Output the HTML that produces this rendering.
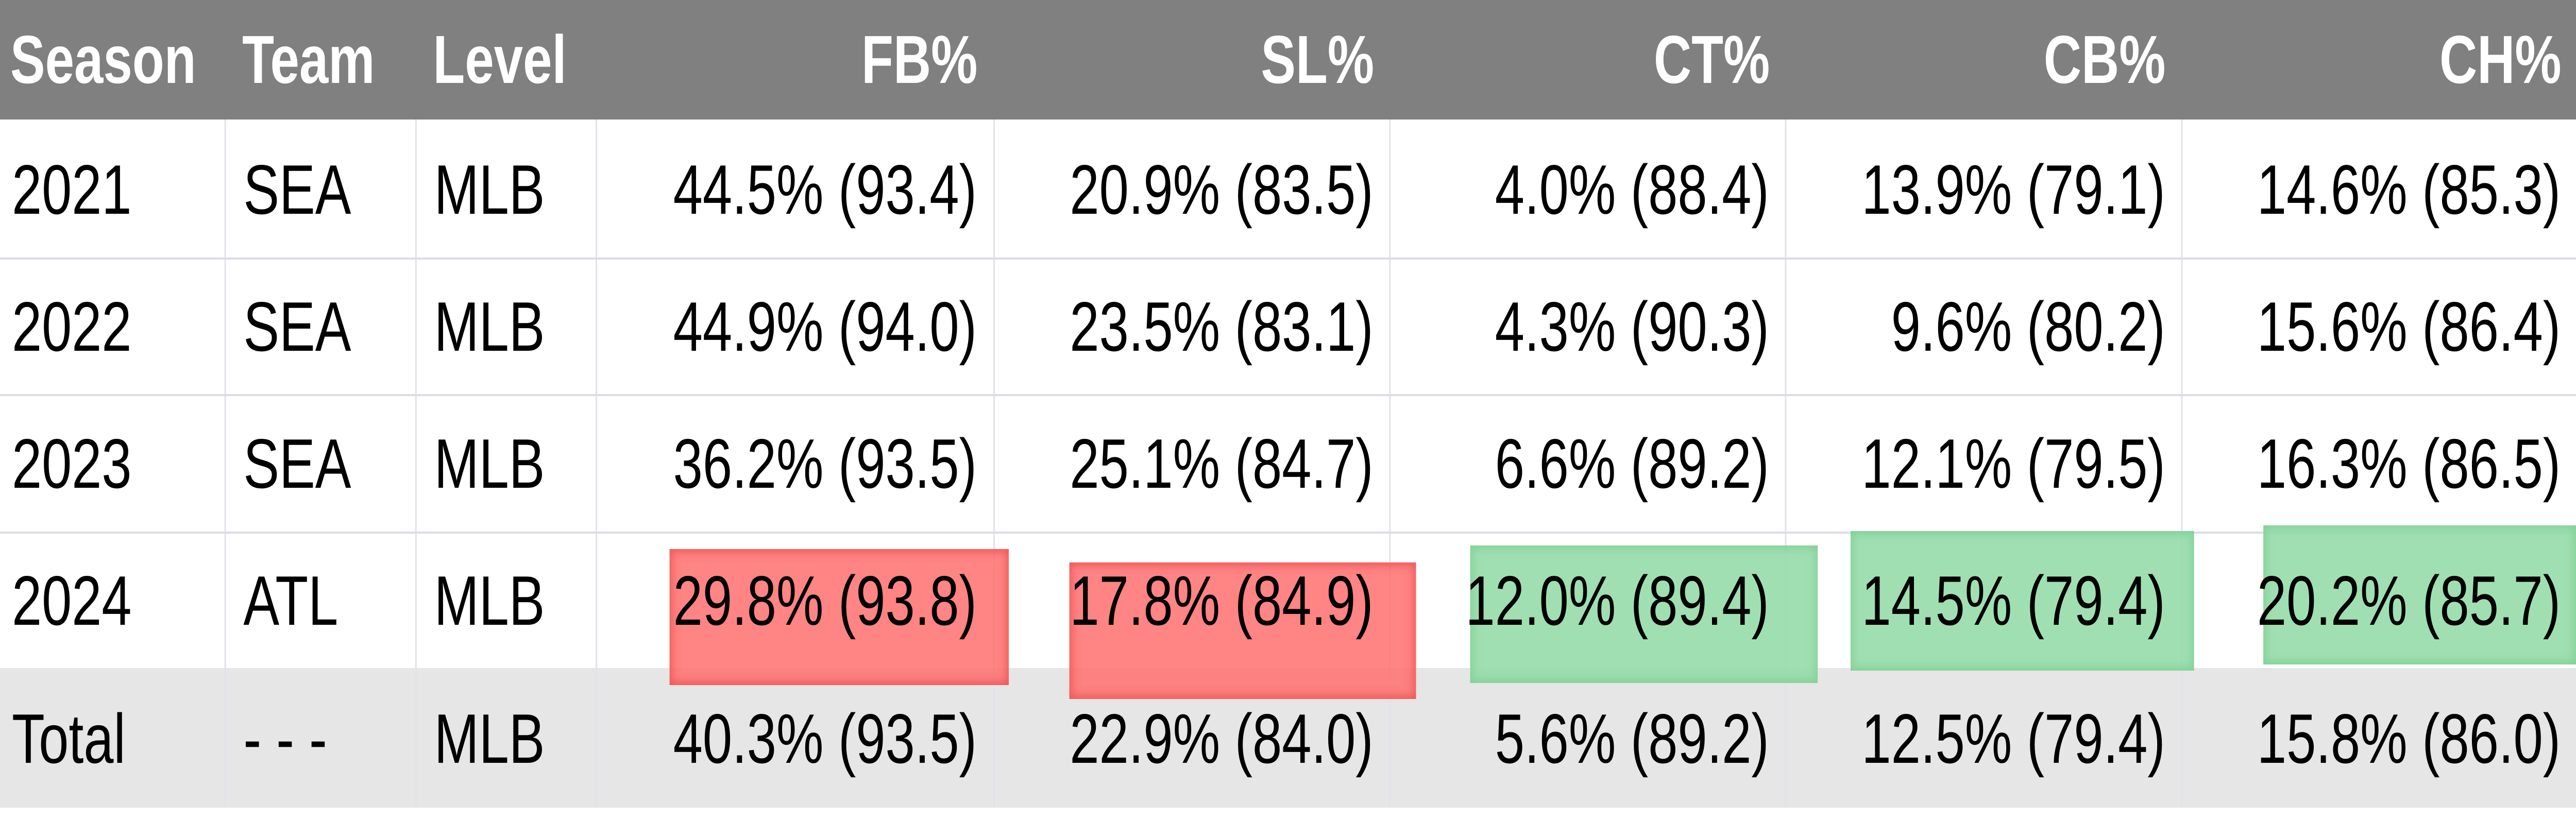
<!DOCTYPE html>
<html style="margin:0;padding:0;overflow:hidden"><head><meta charset="utf-8"><style>
html,body{margin:0;padding:0;overflow:hidden;background:#fff;font-family:"Liberation Sans",sans-serif;}
#outer{position:relative;overflow:hidden;width:6509px;height:1592px;}
#wrap{position:absolute;left:0;top:0;width:6509px;height:1592px;overflow:hidden;transform-origin:0 0;background:#fff;}
.hdr{position:absolute;left:0;top:0;width:6509px;height:232px;background:#808080;}
.tot{position:absolute;left:0;top:1297px;width:6509px;height:271px;background:#e6e6e6;}
.h{position:absolute;top:0;height:232px;line-height:232px;color:#fff;font-weight:bold;font-size:132px;white-space:nowrap;}
.hr{position:absolute;top:0;height:232px;line-height:232px;color:#fff;font-weight:bold;font-size:132px;white-space:nowrap;width:600px;text-align:right;}
.c{position:absolute;color:#000;font-size:136px;white-space:nowrap;}
.n{position:absolute;color:#000;font-size:136px;white-space:nowrap;width:1000px;text-align:right;transform:scaleX(0.985);transform-origin:right center;}
.vl{position:absolute;top:232px;width:4px;height:1336px;background:#e2e2ea;}
.hl{position:absolute;left:0;width:6509px;height:4px;background:#dcdce6;}
.red{position:absolute;background:rgba(255,110,110,0.85);box-shadow:inset 0 0 18px 6px rgba(235,70,70,0.7);}
.grn{position:absolute;background:rgba(150,220,170,0.9);box-shadow:inset 0 0 18px 6px rgba(110,200,135,0.6);}
</style></head><body><div id="outer"><div id="wrap">
<div class="hdr"></div>
<div class="tot"></div>
<div class="vl" style="left:567px"></div>
<div class="vl" style="left:1049px"></div>
<div class="vl" style="left:1505px"></div>
<div class="vl" style="left:2510px"></div>
<div class="vl" style="left:3510px"></div>
<div class="vl" style="left:4510px"></div>
<div class="vl" style="left:5511px"></div>
<div class="hl" style="top:500px"></div>
<div class="hl" style="top:765px"></div>
<div class="hl" style="top:1032px"></div>

<div class="red" style="left:1692px;top:1066px;width:857px;height:264px"></div>
<div class="red" style="left:2702px;top:1092px;width:876px;height:265px"></div>
<div class="grn" style="left:3715px;top:1059px;width:878px;height:267px"></div>
<div class="grn" style="left:4676px;top:1031px;width:868px;height:271px"></div>
<div class="grn" style="left:5719px;top:1020px;width:790px;height:270px"></div>

<div class="h" style="left:26px">Season</div>
<div class="h" style="left:612px">Team</div>
<div class="h" style="left:1094px">Level</div>
<div class="hr" style="left:1870px">FB%</div>
<div class="hr" style="left:2872px">SL%</div>
<div class="hr" style="left:3872px">CT%</div>
<div class="hr" style="left:4872px">CB%</div>
<div class="hr" style="left:5872px">CH%</div>

<div class="c" style="left:30px;top:290px">2021</div>
<div class="c" style="left:615px;top:290px">SEA</div>
<div class="c" style="left:1097px;top:290px">MLB</div>
<div class="n" style="left:1468px;top:290px">44.5% (93.4)</div>
<div class="n" style="left:2470px;top:290px">20.9% (83.5)</div>
<div class="n" style="left:3470px;top:290px">4.0% (88.4)</div>
<div class="n" style="left:4471px;top:290px">13.9% (79.1)</div>
<div class="n" style="left:5470px;top:290px">14.6% (85.3)</div>

<div class="c" style="left:30px;top:556px">2022</div>
<div class="c" style="left:615px;top:556px">SEA</div>
<div class="c" style="left:1097px;top:556px">MLB</div>
<div class="n" style="left:1468px;top:556px">44.9% (94.0)</div>
<div class="n" style="left:2470px;top:556px">23.5% (83.1)</div>
<div class="n" style="left:3470px;top:556px">4.3% (90.3)</div>
<div class="n" style="left:4471px;top:556px">9.6% (80.2)</div>
<div class="n" style="left:5470px;top:556px">15.6% (86.4)</div>

<div class="c" style="left:30px;top:822px">2023</div>
<div class="c" style="left:615px;top:822px">SEA</div>
<div class="c" style="left:1097px;top:822px">MLB</div>
<div class="n" style="left:1468px;top:822px">36.2% (93.5)</div>
<div class="n" style="left:2470px;top:822px">25.1% (84.7)</div>
<div class="n" style="left:3470px;top:822px">6.6% (89.2)</div>
<div class="n" style="left:4471px;top:822px">12.1% (79.5)</div>
<div class="n" style="left:5470px;top:822px">16.3% (86.5)</div>

<div class="c" style="left:30px;top:1088px">2024</div>
<div class="c" style="left:615px;top:1088px">ATL</div>
<div class="c" style="left:1097px;top:1088px">MLB</div>
<div class="n" style="left:1468px;top:1088px">29.8% (93.8)</div>
<div class="n" style="left:2470px;top:1088px">17.8% (84.9)</div>
<div class="n" style="left:3470px;top:1088px">12.0% (89.4)</div>
<div class="n" style="left:4471px;top:1088px">14.5% (79.4)</div>
<div class="n" style="left:5470px;top:1088px">20.2% (85.7)</div>

<div class="c" style="left:30px;top:1356px">Total</div>
<div class="c" style="left:615px;top:1356px">- - -</div>
<div class="c" style="left:1097px;top:1356px">MLB</div>
<div class="n" style="left:1468px;top:1356px">40.3% (93.5)</div>
<div class="n" style="left:2470px;top:1356px">22.9% (84.0)</div>
<div class="n" style="left:3470px;top:1356px">5.6% (89.2)</div>
<div class="n" style="left:4471px;top:1356px">12.5% (79.4)</div>
<div class="n" style="left:5470px;top:1356px">15.8% (86.0)</div>
</div></div>
<script>
(function(){
  var w=window.innerWidth||document.documentElement.clientWidth||6509;
  var h=window.innerHeight||document.documentElement.clientHeight||1592;
  var sx=w/6509, sy=h/1592;
  if(Math.abs(sx-1)>0.001||Math.abs(sy-1)>0.001){
    var o=document.getElementById('outer');
    o.style.width=w+'px';
    o.style.height=h+'px';
    document.getElementById('wrap').style.transform='scale('+sx+','+sy+')';
  }
})();
</script>
</body></html>
